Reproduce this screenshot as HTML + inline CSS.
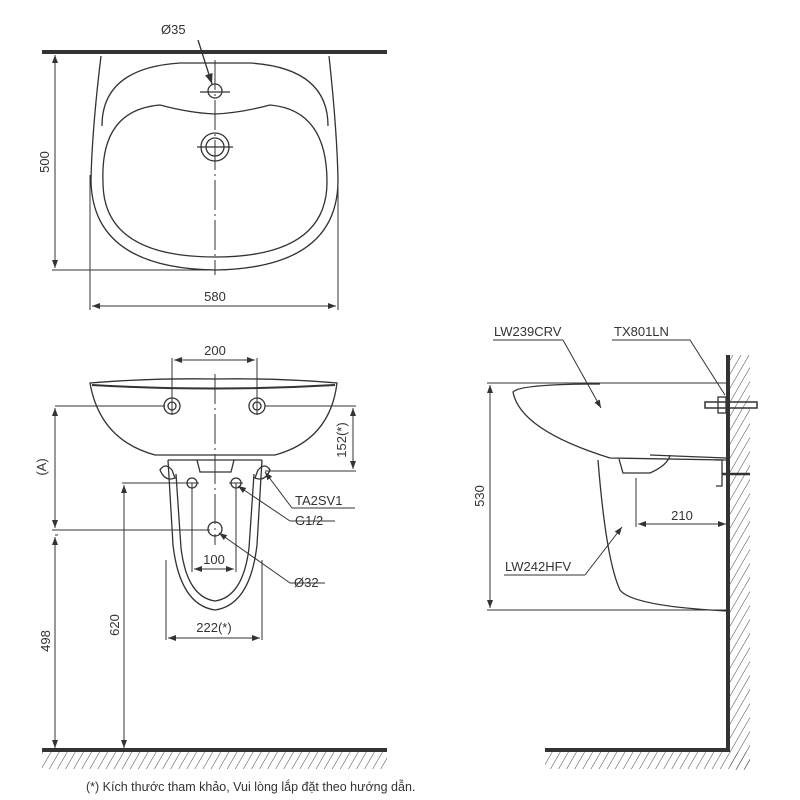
<!DOCTYPE html><html><head><meta charset="utf-8"><style>body{margin:0;background:#fff}svg{display:block}text{font-family:"Liberation Sans",sans-serif;fill:#333}</style></head><body>
<svg width="800" height="800" viewBox="0 0 800 800" xmlns="http://www.w3.org/2000/svg">
<defs>
<pattern id="h" width="7" height="7" patternUnits="userSpaceOnUse" patternTransform="rotate(30)"><line x1="0" y1="0" x2="0" y2="7" stroke="#444" stroke-width="1"/></pattern>
<marker id="a" markerWidth="8" markerHeight="6" refX="8" refY="3" orient="auto-start-reverse"><path d="M0,0L8,3L0,6z" fill="#333"/></marker>
</defs>
<g fill="none" stroke="#333" stroke-width="1.3">
<line x1="42" y1="52" x2="387" y2="52" stroke-width="4"/>
<path d="M101,56 Q92,130 91,180 Q92,268 215,270 Q338,268 338,180 Q337,130 329,56"/>
<path d="M102,126 Q102,68 180,63 L250,63 Q328,68 328,126"/>
<path d="M103,182 Q100,110 160,105 Q190,113 215,114 Q240,113 270,105 Q327,110 327,182 Q327,257 215,257 Q103,257 103,182Z"/>
<circle cx="215" cy="91" r="7"/><line x1="200" y1="92" x2="230" y2="92"/>
<circle cx="215" cy="147" r="14"/><circle cx="215" cy="147" r="9"/><line x1="197" y1="147" x2="233" y2="147"/>
<line x1="215" y1="60" x2="215" y2="275" stroke-dasharray="30,4,2,4" stroke-width="1"/>
<line x1="198" y1="40" x2="212" y2="84" marker-end="url(#a)"/>
<line x1="55" y1="55" x2="55" y2="268" marker-start="url(#a)" marker-end="url(#a)" stroke-width="1"/>
<line x1="52" y1="270" x2="215" y2="270" stroke-width="1"/>
<line x1="90" y1="175" x2="90" y2="310" stroke-width="1"/><line x1="338" y1="175" x2="338" y2="310" stroke-width="1"/>
<line x1="92" y1="306" x2="336" y2="306" marker-start="url(#a)" marker-end="url(#a)" stroke-width="1"/>
<path d="M90,383 Q150,378 215,379 Q280,378 337,383 Q330,440 275,455 L155,455 Q100,440 90,383Z"/>
<path d="M92,385 Q215,392 335,385" stroke-width="2"/>
<circle cx="172" cy="406" r="8"/><circle cx="172" cy="406" r="4"/><circle cx="257" cy="406" r="8"/><circle cx="257" cy="406" r="4"/>
<line x1="172" y1="358" x2="172" y2="415" stroke-width="1"/><line x1="257" y1="358" x2="257" y2="415" stroke-width="1"/>
<line x1="174" y1="360" x2="255" y2="360" marker-start="url(#a)" marker-end="url(#a)" stroke-width="1"/>
<line x1="215" y1="374" x2="215" y2="545" stroke-dasharray="30,4,2,4" stroke-width="1"/>
<path d="M168,460 L262,460"/>
<path d="M168,460 L173,545 Q180,605 215,610 Q250,605 257,545 L262,460"/>
<path d="M176,474 L181,548 Q187,597 215,601 Q243,597 249,548 L254,474"/>
<path d="M197,460 L200,472 L231,472 L234,460"/>
<path d="M160,470 Q165,462 172,470 L175,478 Q165,482 160,470Z"/><path d="M270,470 Q265,462 258,470 L255,478 Q265,482 270,470Z"/>
<circle cx="192" cy="483" r="5"/><circle cx="236" cy="483" r="5"/><circle cx="215" cy="529" r="7"/>
<line x1="185" y1="483" x2="199" y2="483" stroke-width="1"/><line x1="229" y1="483" x2="243" y2="483" stroke-width="1"/>
<line x1="192" y1="483" x2="192" y2="572" stroke-width="1"/><line x1="236" y1="483" x2="236" y2="572" stroke-width="1"/>
<line x1="194" y1="569" x2="234" y2="569" marker-start="url(#a)" marker-end="url(#a)" stroke-width="1"/>
<line x1="166" y1="560" x2="166" y2="640" stroke-width="1"/><line x1="262" y1="560" x2="262" y2="640" stroke-width="1"/>
<line x1="168" y1="638" x2="260" y2="638" marker-start="url(#a)" marker-end="url(#a)" stroke-width="1"/>
<g stroke-width="1">
<line x1="55" y1="406" x2="165" y2="406"/><line x1="265" y1="406" x2="356" y2="406"/><line x1="265" y1="471" x2="356" y2="471"/>
<line x1="353" y1="408" x2="353" y2="469" marker-start="url(#a)" marker-end="url(#a)"/>
<line x1="55" y1="408" x2="55" y2="528" marker-start="url(#a)" marker-end="url(#a)"/>
<line x1="52" y1="530" x2="210" y2="530"/>
<line x1="58" y1="535" x2="55" y2="535"/><line x1="55" y1="537" x2="55" y2="748" marker-start="url(#a)" marker-end="url(#a)"/>
<line x1="122" y1="483" x2="185" y2="483"/><line x1="124" y1="485" x2="124" y2="748" marker-start="url(#a)" marker-end="url(#a)"/>
<polyline points="292,508 355,508"/><line x1="292" y1="508" x2="265" y2="472" marker-end="url(#a)"/>
<polyline points="290,521 335,521"/><line x1="290" y1="521" x2="238" y2="486" marker-end="url(#a)"/>
<polyline points="290,583 325,583"/><line x1="290" y1="583" x2="219" y2="533" marker-end="url(#a)"/>
</g>
<line x1="42" y1="750" x2="387" y2="750" stroke-width="4"/>
<rect x="42" y="752" width="345" height="17" fill="url(#h)" stroke="none"/>
<line x1="728" y1="355" x2="728" y2="752" stroke-width="4"/>
<rect x="730" y="355" width="20" height="415" fill="url(#h)" stroke="none"/>
<line x1="545" y1="750" x2="730" y2="750" stroke-width="4"/>
<rect x="545" y="752" width="205" height="17" fill="url(#h)" stroke="none"/>
<g stroke-width="1">
<line x1="487" y1="383" x2="728" y2="383"/><line x1="487" y1="610" x2="728" y2="610"/>
<line x1="490" y1="385" x2="490" y2="608" marker-start="url(#a)" marker-end="url(#a)"/>
<line x1="636" y1="478" x2="636" y2="527"/><line x1="638" y1="524" x2="726" y2="524" marker-start="url(#a)" marker-end="url(#a)"/>
<polyline points="493,340 563,340"/><line x1="563" y1="340" x2="601" y2="408" marker-end="url(#a)"/>
<polyline points="612,340 690,340 725,395"/>
<polyline points="504,575 585,575"/><line x1="585" y1="575" x2="622" y2="527" marker-end="url(#a)"/>
</g>
<path d="M600,384 Q520,384 513,392 Q520,430 610,458 L726,460"/>
<path d="M619,459 L623,473 L650,473 Q668,465 670,455"/><path d="M650,455 L726,458"/>
<path d="M598,460 Q606,560 620,590 Q632,606 726,611"/>
<rect x="705" y="402" width="52" height="6" stroke-width="1.5"/><rect x="718" y="397" width="8" height="16"/>
<path d="M715,460 L722,460 L722,486 L716,486" /><line x1="722" y1="474" x2="750" y2="474" stroke-width="2.5"/>
</g>
<g font-size="13">
<text x="161" y="34">Ø35</text>
<text x="49" y="162" text-anchor="middle" transform="rotate(-90 49 162)">500</text>
<text x="215" y="301" text-anchor="middle">580</text>
<text x="215" y="355" text-anchor="middle">200</text>
<text x="46" y="467" text-anchor="middle" transform="rotate(-90 46 467)">(A)</text>
<text x="346" y="440" text-anchor="middle" transform="rotate(-90 346 440)">152(*)</text>
<text x="295" y="505">TA2SV1</text>
<text x="295" y="525">G1/2</text>
<text x="214" y="564" text-anchor="middle">100</text>
<text x="294" y="587">Ø32</text>
<text x="214" y="632" text-anchor="middle">222(*)</text>
<text x="119" y="625" text-anchor="middle" transform="rotate(-90 119 625)">620</text>
<text x="50" y="641" text-anchor="middle" transform="rotate(-90 50 641)">498</text>
<text x="494" y="336">LW239CRV</text>
<text x="614" y="336">TX801LN</text>
<text x="484" y="496" text-anchor="middle" transform="rotate(-90 484 496)">530</text>
<text x="682" y="520" text-anchor="middle">210</text>
<text x="505" y="571">LW242HFV</text>
<text x="86" y="791" font-size="12.5">(*) Kích thước tham khảo, Vui lòng lắp đặt theo hướng dẫn.</text>
</g>
</svg></body></html>
